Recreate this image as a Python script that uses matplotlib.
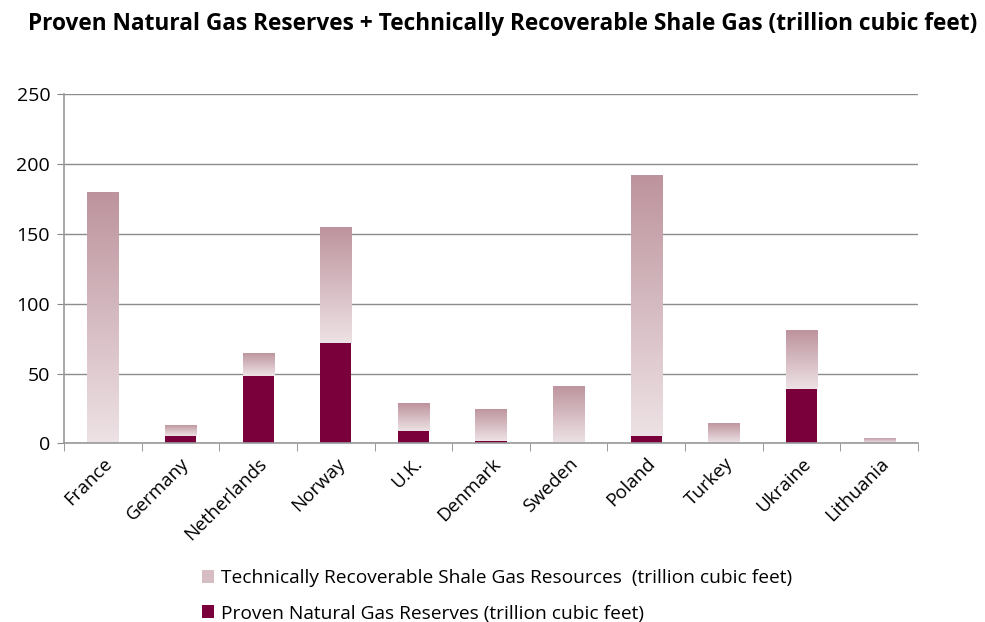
import numpy as np
import matplotlib.pyplot as plt
from matplotlib.colors import LinearSegmentedColormap
from matplotlib.patches import Patch

# data (trillion cubic feet)
countries = ['France', 'Germany', 'Netherlands', 'Norway', 'U.K.', 'Denmark',
             'Sweden', 'Poland', 'Turkey', 'Ukraine', 'Lithuania']
proven = [0, 5, 48, 72, 9, 2, 0, 5, 0, 39, 0]
shale = [180, 8, 17, 83, 20, 23, 41, 187, 15, 42, 4]

shale_label = 'Technically Recoverable Shale Gas Resources  (trillion cubic feet)'
proven_label = 'Proven Natural Gas Reserves (trillion cubic feet)'
title = 'Proven Natural Gas Reserves + Technically Recoverable Shale Gas (trillion cubic feet)'

dark = '#7a003b'
grad = LinearSegmentedColormap.from_list('g', ['#ede2e5', '#bd939d'])

plt.rcParams['font.family'] = ['Open Sans', 'DejaVu Sans']

fig = plt.figure(figsize=(9.85, 6.22), dpi=100)
ax = fig.add_axes([0.065, 0.287, 0.867, 0.562])

x = np.arange(len(countries))
w = 0.4
pb = ax.bar(x, proven, width=w, color=dark, zorder=3)
sb = ax.bar(x, shale, width=w, bottom=proven, color='none', zorder=3)

# vertical gradient inside each shale segment
g = np.linspace(0, 1, 256).reshape(-1, 1)
for rect in sb:
    h = rect.get_height()
    if h <= 0:
        continue
    x0, y0 = rect.get_x(), rect.get_y()
    im = ax.imshow(g, cmap=grad, origin='lower', aspect='auto',
                   extent=[x0, x0 + rect.get_width(), y0, y0 + h], zorder=3)
    im.set_clip_path(rect)
    rect.set_edgecolor('none')

ax.set_xlim(-0.5, len(countries) - 0.5)
ax.set_ylim(0, 250)
ax.set_yticks(range(0, 251, 50))
ax.set_xticks(x)
ax.set_xticklabels(countries, rotation=45, ha='right', rotation_mode='anchor', fontsize=13.5)
ax.set_xticks(np.arange(-0.5, len(countries), 1), minor=True)
ax.tick_params(axis='x', which='major', length=0, pad=8)
ax.tick_params(axis='x', which='minor', length=6, color='#888888', direction='out')
ax.tick_params(axis='y', length=5, color='#888888', labelsize=14, pad=5)
ax.grid(axis='y', color='#8c8c8c', linewidth=1, zorder=0)
for s in ['top', 'right']:
    ax.spines[s].set_visible(False)
for s in ['left', 'bottom']:
    ax.spines[s].set_color('#999999')
    ax.spines[s].set_linewidth(1.2)
ax.spines['bottom'].set_zorder(4)

fig.text(0.51, 0.962, title, ha='center', va='center', fontsize=16.3, fontweight='bold')

handles = [Patch(facecolor='#d6bcc3'), Patch(facecolor=dark)]
fig.legend(handles, [shale_label, proven_label], loc='upper left',
           bbox_to_anchor=(0.197, 0.097), frameon=False, fontsize=13.8,
           handlelength=0.65, handleheight=0.65, handletextpad=0.35, labelspacing=0.9,
           borderaxespad=0)

fig.savefig('out.png', dpi=100)
